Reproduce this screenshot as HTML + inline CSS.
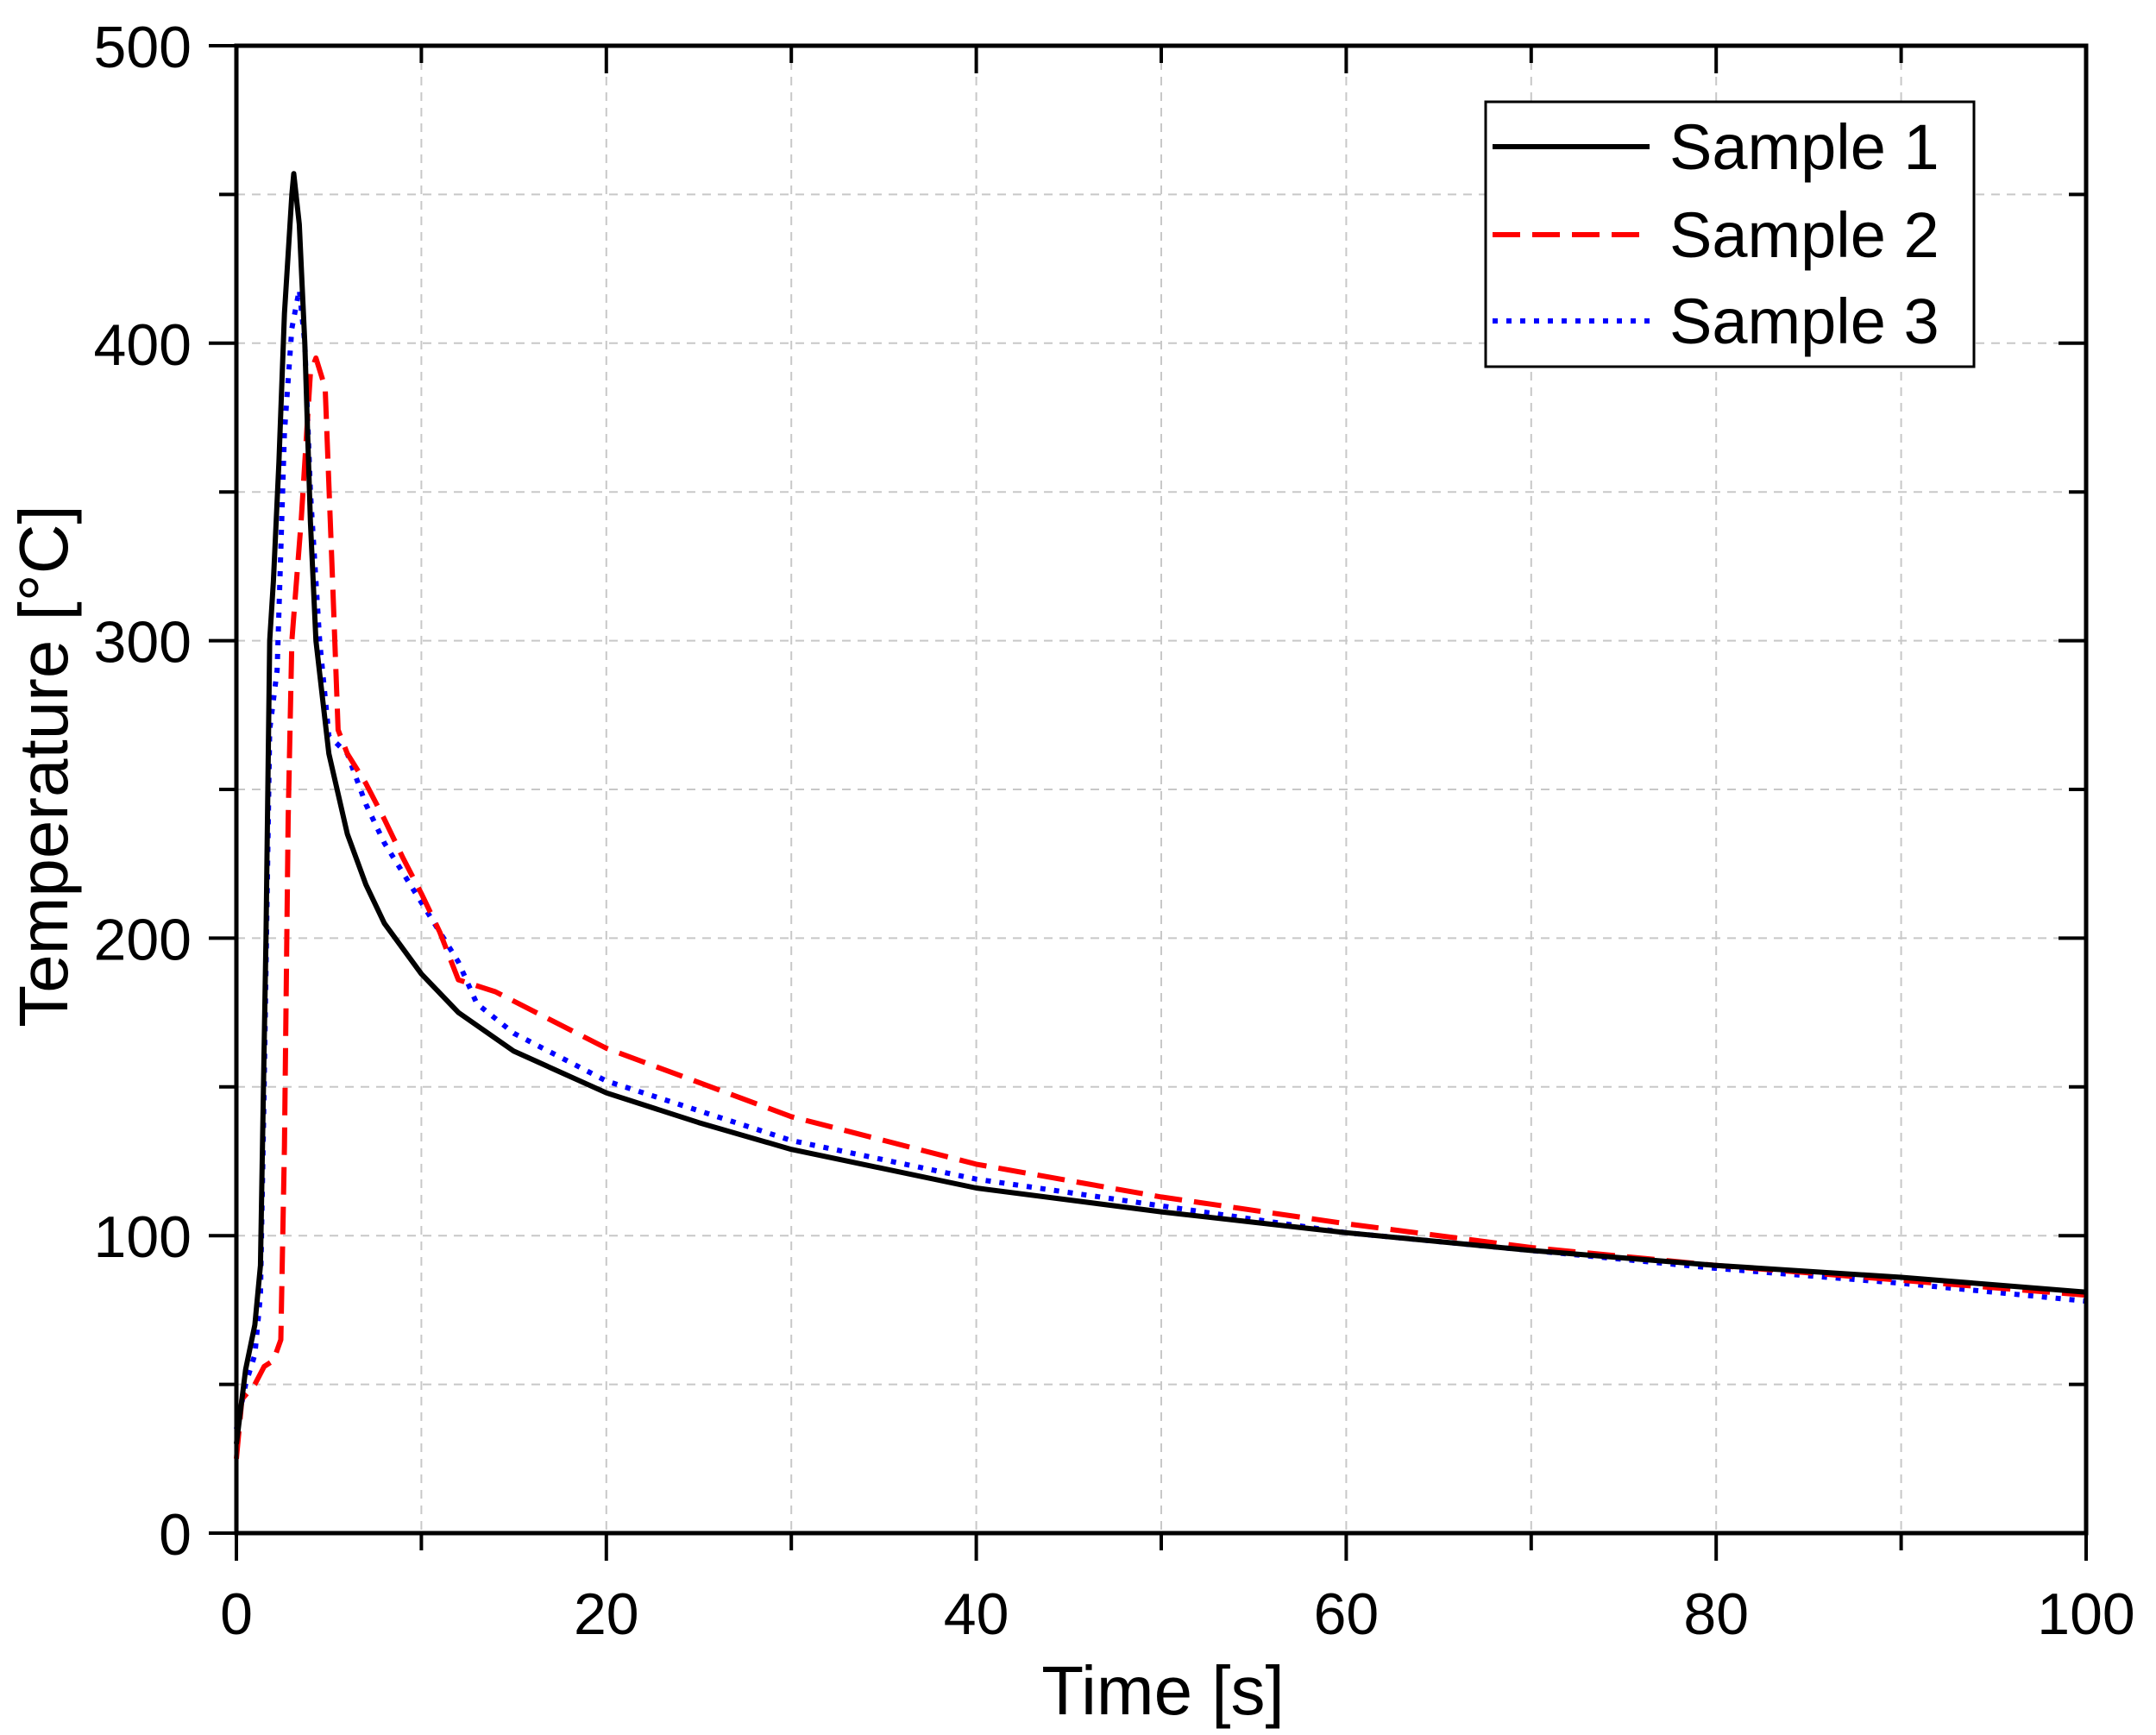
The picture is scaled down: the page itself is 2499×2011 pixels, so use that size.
<!DOCTYPE html>
<html><head><meta charset="utf-8"><style>
html,body{margin:0;padding:0;background:#fff;}
svg{display:block;font-family:"Liberation Sans",Arial,sans-serif;}
</style></head><body>
<svg id="chart" width="2499" height="2011" viewBox="0 0 2499 2011">
<g id="grid"></g>
<g id="series"></g>
<g id="axes"></g>
<text x="1348" y="1987" font-size="80" text-anchor="middle">Time [s]</text>
<text transform="translate(78,888) rotate(-90)" font-size="80" text-anchor="middle">Temperature [°C]</text>
<g>
<rect x="1722" y="118" width="566" height="307" fill="#fff" stroke="#000" stroke-width="3"/>
<g>
<line x1="1730" y1="170" x2="1912" y2="170" stroke="#000" stroke-width="6"/>
<text x="1935" y="196" font-size="74">Sample 1</text></g>
<g>
<line x1="1730" y1="272" x2="1912" y2="272" stroke="#f00" stroke-width="6" stroke-dasharray="32,14"/>
<text x="1935" y="298" font-size="74">Sample 2</text></g>
<g>
<line x1="1730" y1="372" x2="1912" y2="372" stroke="#00f" stroke-width="6" stroke-dasharray="6,10"/>
<text x="1935" y="398" font-size="74">Sample 3</text></g>
</g>
</svg>
<script>
const xTicks=[0,20,40,60,80,100];
const yTicks=[0,100,200,300,400,500];
const s1x=[0,0.5,1,1.3,1.6,1.8,2,2.3,2.6,3,3.1,3.4,3.7,4,4.3,5,6,7,8,10,12,15,20,25,30,40,50,60,70,80,90,100];
const s1y=[30,55,70,90,200,300,320,360,410,450,457,440,400,340,300,262,235,218,205,188,175,162,148,138,129,116,108,101,95,90,86,81];
const s2x=[0,0.3,1,1.5,2,2.4,2.6,2.8,3,3.5,4,4.3,4.8,5.2,5.5,6,7,8,9,10,11,12,14,20,30,40,50,60,70,80,90,100];
const s2y=[25,45,50,56,58,65,130,240,300,340,390,395,385,320,270,262,252,240,227,215,202,186,182,163,140,124,113,104,96,90,85,80];
const s3x=[0,0.5,1,1.3,1.5,1.8,2.2,2.6,3,3.4,3.7,4,4.5,5,6,7,8,10,12,13,15,20,30,40,50,60,70,80,90,100];
const s3y=[35,50,60,80,150,270,290,370,405,418,400,350,300,268,262,245,232,212,192,178,168,152,132,119,110,101,95,89,84,78];

const X0=274,X1=2418,Y0=1777,Y1=53;
const xs=v=>X0+(v/100)*(X1-X0);
const ys=v=>Y0-(v/500)*(Y0-Y1);
const NS="http://www.w3.org/2000/svg";
function mk(tag,attrs,parent){const e=document.createElementNS(NS,tag);for(const k in attrs)e.setAttribute(k,attrs[k]);parent.appendChild(e);return e;}
const grid=document.getElementById('grid'),axes=document.getElementById('axes'),series=document.getElementById('series');
for(let v=10;v<100;v+=10){const l=mk('line',{x1:xs(v),x2:xs(v),y1:Y1,y2:Y0,stroke:'#c8c8c8','stroke-width':2,'stroke-dasharray':'10,8'},grid);

}
for(let v=50;v<500;v+=50){const l=mk('line',{x1:X0,x2:X1,y1:ys(v),y2:ys(v),stroke:'#c8c8c8','stroke-width':2,'stroke-dasharray':'10,8'},grid);

}
function line(xa,ya,color,dash,name){
 const d=xa.map((x,i)=>(i?'L':'M')+xs(x).toFixed(1)+','+ys(ya[i]).toFixed(1)).join('');
 const p=mk('path',{d:d,fill:'none',stroke:color,'stroke-width':6,'stroke-linejoin':'round'},series);
 if(dash)p.setAttribute('stroke-dasharray',dash);
 
 
}
line(s3x,s3y,'#00f','6,10','series-sample-3');
line(s2x,s2y,'#f00','32,14','series-sample-2');
line(s1x,s1y,'#000',null,'series-sample-1');
mk('rect',{x:X0,y:Y1,width:X1-X0,height:Y0-Y1,fill:'none',stroke:'#000','stroke-width':5},axes);
for(let v=0;v<=100;v+=10){const maj=v%20===0;
 mk('line',{x1:xs(v),x2:xs(v),y1:Y0,y2:Y0+(maj?32:20),stroke:'#000','stroke-width':4},axes);
 mk('line',{x1:xs(v),x2:xs(v),y1:Y1,y2:Y1+(maj?32:20),stroke:'#000','stroke-width':4},axes);}
for(let v=0;v<=500;v+=50){const maj=v%100===0;
 mk('line',{x1:X0,x2:X0-(maj?32:20),y1:ys(v),y2:ys(v),stroke:'#000','stroke-width':4},axes);
 mk('line',{x1:X1,x2:X1-(maj?32:20),y1:ys(v),y2:ys(v),stroke:'#000','stroke-width':4},axes);}
xTicks.forEach(v=>{const t=mk('text',{x:xs(v),y:Y0+117,'font-size':68,'text-anchor':'middle'},axes);t.textContent=v;

});
yTicks.forEach(v=>{const t=mk('text',{x:X0-52,y:ys(v)+25,'font-size':68,'text-anchor':'end'},axes);t.textContent=v;

});
</script>
</body></html>
